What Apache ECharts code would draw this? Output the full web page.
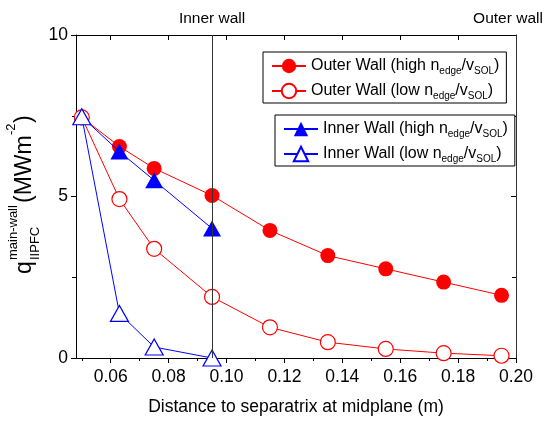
<!DOCTYPE html>
<html>
<head>
<meta charset="utf-8">
<script src="https://cdn.jsdelivr.net/npm/echarts@6/dist/echarts.min.js"></script>
<style>
  html, body { margin: 0; padding: 0; background: #fff; }
  #chart { width: 548px; height: 421px; }
</style>
</head>
<body>
<div id="chart"></div>
<script>
// distance to separatrix (m)
const xOuter = [0.05, 0.063, 0.075, 0.095, 0.115, 0.135, 0.155, 0.175, 0.195]
const xInner = [0.05, 0.063, 0.075, 0.095]

// heat flux q (MW m^-2)
const outerHigh = [7.45, 6.55, 5.87, 5.03, 3.95, 3.17, 2.76, 2.35, 1.94]
const outerLow = [7.45, 4.92, 3.38, 1.89, 0.95, 0.49, 0.28, 0.15, 0.07]
const innerHigh = [7.47, 6.39, 5.5, 4.01]
const innerLow = [7.47, 1.38, 0.34, 0.0]

const xMajorTicks = [0.06, 0.08, 0.10, 0.12, 0.14, 0.16, 0.18, 0.20]
const xMinorTicks = [0.05, 0.07, 0.09, 0.11, 0.13, 0.15, 0.17, 0.19]

const wallLines = [
  { x: 0.095, name: 'Inner wall' },
  { x: 0.2, name: 'Outer wall' }
]

const FONT = 'Liberation Sans, Arial, sans-serif'

const legendText = {
  'Outer Wall (high nedge/vSOL)': 'Outer Wall (high n{s|edge}/v{s|SOL})',
  'Outer Wall (low nedge/vSOL)': 'Outer Wall (low n{s|edge}/v{s|SOL})',
  'Inner Wall (high nedge/vSOL)': 'Inner Wall (high n{s|edge}/v{s|SOL})',
  'Inner Wall (low nedge/vSOL)': 'Inner Wall (low n{s|edge}/v{s|SOL})'
}

const pairs = (xs, ys) => xs.map((x, i) => [x, ys[i]])

const chart = echarts.init(document.getElementById('chart'))

const legendBase = {
  orient: 'vertical',
  backgroundColor: '#fff',
  borderColor: '#000',
  borderWidth: 1,
  borderRadius: 0,
  itemWidth: 34,
  itemHeight: 18,
  itemGap: 5,
  padding: [4, 7, 2, 8],
  formatter: name => legendText[name],
  textStyle: {
    fontFamily: FONT,
    fontSize: 16,
    color: '#000',
    lineHeight: 20,
    rich: {
      s: { fontFamily: FONT, fontSize: 10, color: '#000', lineHeight: 11, verticalAlign: 'bottom' }
    }
  }
}

const xBase = {
  type: 'value',
  min: 0.048,
  max: 0.2,
  splitLine: { show: false },
  axisLine: { show: false },
  axisLabel: { show: false },
  axisTick: { show: false }
}

const yTitle = [
  { text: 'q', at: 0, off: 0, size: 23 },
  { text: 'IIPFC', at: 14, off: 10, size: 13 },
  { text: 'main-wall', at: 14, off: -12, size: 13 },
  { text: '(MWm', at: 71, off: 0, size: 23 },
  { text: '-2', at: 139, off: -14, size: 13 },
  { text: ')', at: 151, off: 0, size: 23 }
]

const option = {
  backgroundColor: '#fff',
  animation: false,
  grid: { left: 76, right: 32, top: 35, bottom: 61 },
  legend: [
    Object.assign({}, legendBase, {
      left: 263, top: 52,
      data: ['Outer Wall (high nedge/vSOL)', 'Outer Wall (low nedge/vSOL)']
    }),
    Object.assign({}, legendBase, {
      left: 275, top: 115,
      data: ['Inner Wall (high nedge/vSOL)', 'Inner Wall (low nedge/vSOL)']
    })
  ],
  xAxis: [
    Object.assign({}, xBase, {
      position: 'bottom',
      name: 'Distance to separatrix at midplane (m)',
      nameLocation: 'middle',
      nameGap: 40,
      nameTextStyle: { fontFamily: FONT, fontSize: 17.5, color: '#000' },
      axisLine: { show: true, onZero: false, lineStyle: { color: '#000', width: 1 } },
      axisTick: { show: true, inside: false, length: 5, customValues: xMajorTicks, lineStyle: { color: '#000' } },
      axisLabel: {
        show: true, margin: 10, customValues: xMajorTicks,
        fontFamily: FONT, fontSize: 17.5, color: '#000',
        formatter: v => v.toFixed(2)
      }
    }),
    Object.assign({}, xBase, {
      position: 'bottom',
      axisTick: { show: true, inside: false, length: 3, customValues: xMinorTicks, lineStyle: { color: '#000' } }
    }),
    Object.assign({}, xBase, {
      position: 'top',
      axisLine: { show: true, onZero: false, lineStyle: { color: '#000', width: 1 } },
      axisTick: { show: true, inside: true, length: 5, customValues: xMajorTicks, lineStyle: { color: '#000' } }
    }),
    Object.assign({}, xBase, {
      position: 'top',
      axisTick: { show: true, inside: true, length: 3, customValues: xMinorTicks, lineStyle: { color: '#000' } }
    })
  ],
  yAxis: [
    {
      type: 'value',
      min: 0,
      max: 10,
      interval: 5,
      position: 'left',
      splitLine: { show: false },
      axisLine: { show: true, onZero: false, lineStyle: { color: '#000', width: 1 } },
      axisTick: { show: true, inside: false, length: 5, lineStyle: { color: '#000' } },
      minorTick: { show: true, splitNumber: 2, length: 4, lineStyle: { color: '#000' } },
      axisLabel: { margin: 8, fontFamily: FONT, fontSize: 17.5, color: '#000' }
    },
    {
      type: 'value',
      min: 0,
      max: 10,
      interval: 5,
      position: 'right',
      splitLine: { show: false },
      axisLine: { show: true, onZero: false, lineStyle: { color: '#000', width: 1 } },
      axisTick: { show: true, inside: true, length: 5, lineStyle: { color: '#000' } },
      minorTick: { show: true, splitNumber: 2, length: 4, lineStyle: { color: '#000' } },
      axisLabel: { show: false }
    }
  ],
  graphic: [
    {
      type: 'group',
      x: 25,
      y: 274,
      rotation: Math.PI / 2,
      children: yTitle.map(t => ({
        type: 'text',
        x: t.at,
        y: t.off,
        style: { text: t.text, font: t.size + 'px ' + FONT, fill: '#000', verticalAlign: 'middle' }
      }))
    }
  ],
  series: [
    {
      name: 'Outer Wall (high nedge/vSOL)',
      type: 'line',
      data: pairs(xOuter, outerHigh),
      symbol: 'circle',
      symbolSize: 15,
      itemStyle: { color: '#ff0000' },
      lineStyle: { color: '#ff0000', width: 1 },
      z: 2,
      markLine: {
        silent: true,
        symbol: 'none',
        precision: 4,
        lineStyle: { color: '#333', width: 1, type: 'solid' },
        label: {
          position: 'end',
          distance: 8,
          fontFamily: FONT,
          fontSize: 15.5,
          color: '#000',
          formatter: p => p.name
        },
        data: wallLines.map((w, i) => ({
          name: w.name,
          xAxis: w.x,
          label: i === 1 ? { offset: [-8, 0] } : {}
        }))
      }
    },
    {
      name: 'Outer Wall (low nedge/vSOL)',
      type: 'line',
      data: pairs(xOuter, outerLow),
      symbol: 'circle',
      symbolSize: 15,
      itemStyle: { color: '#fff', borderColor: '#ff0000', borderWidth: 1.2 },
      lineStyle: { color: '#ff0000', width: 1 },
      z: 2
    },
    {
      name: 'Inner Wall (high nedge/vSOL)',
      type: 'line',
      data: pairs(xInner, innerHigh),
      symbol: 'triangle',
      symbolSize: [18, 16],
      itemStyle: { color: '#0000ff' },
      lineStyle: { color: '#0000ff', width: 1 },
      z: 3
    },
    {
      name: 'Inner Wall (low nedge/vSOL)',
      type: 'line',
      data: pairs(xInner, innerLow),
      symbol: 'triangle',
      symbolSize: [18, 16],
      itemStyle: { color: '#fff', borderColor: '#0000ff', borderWidth: 1.2 },
      lineStyle: { color: '#0000ff', width: 1 },
      z: 3
    }
  ]
}

chart.setOption(option)
</script>
</body>
</html>
